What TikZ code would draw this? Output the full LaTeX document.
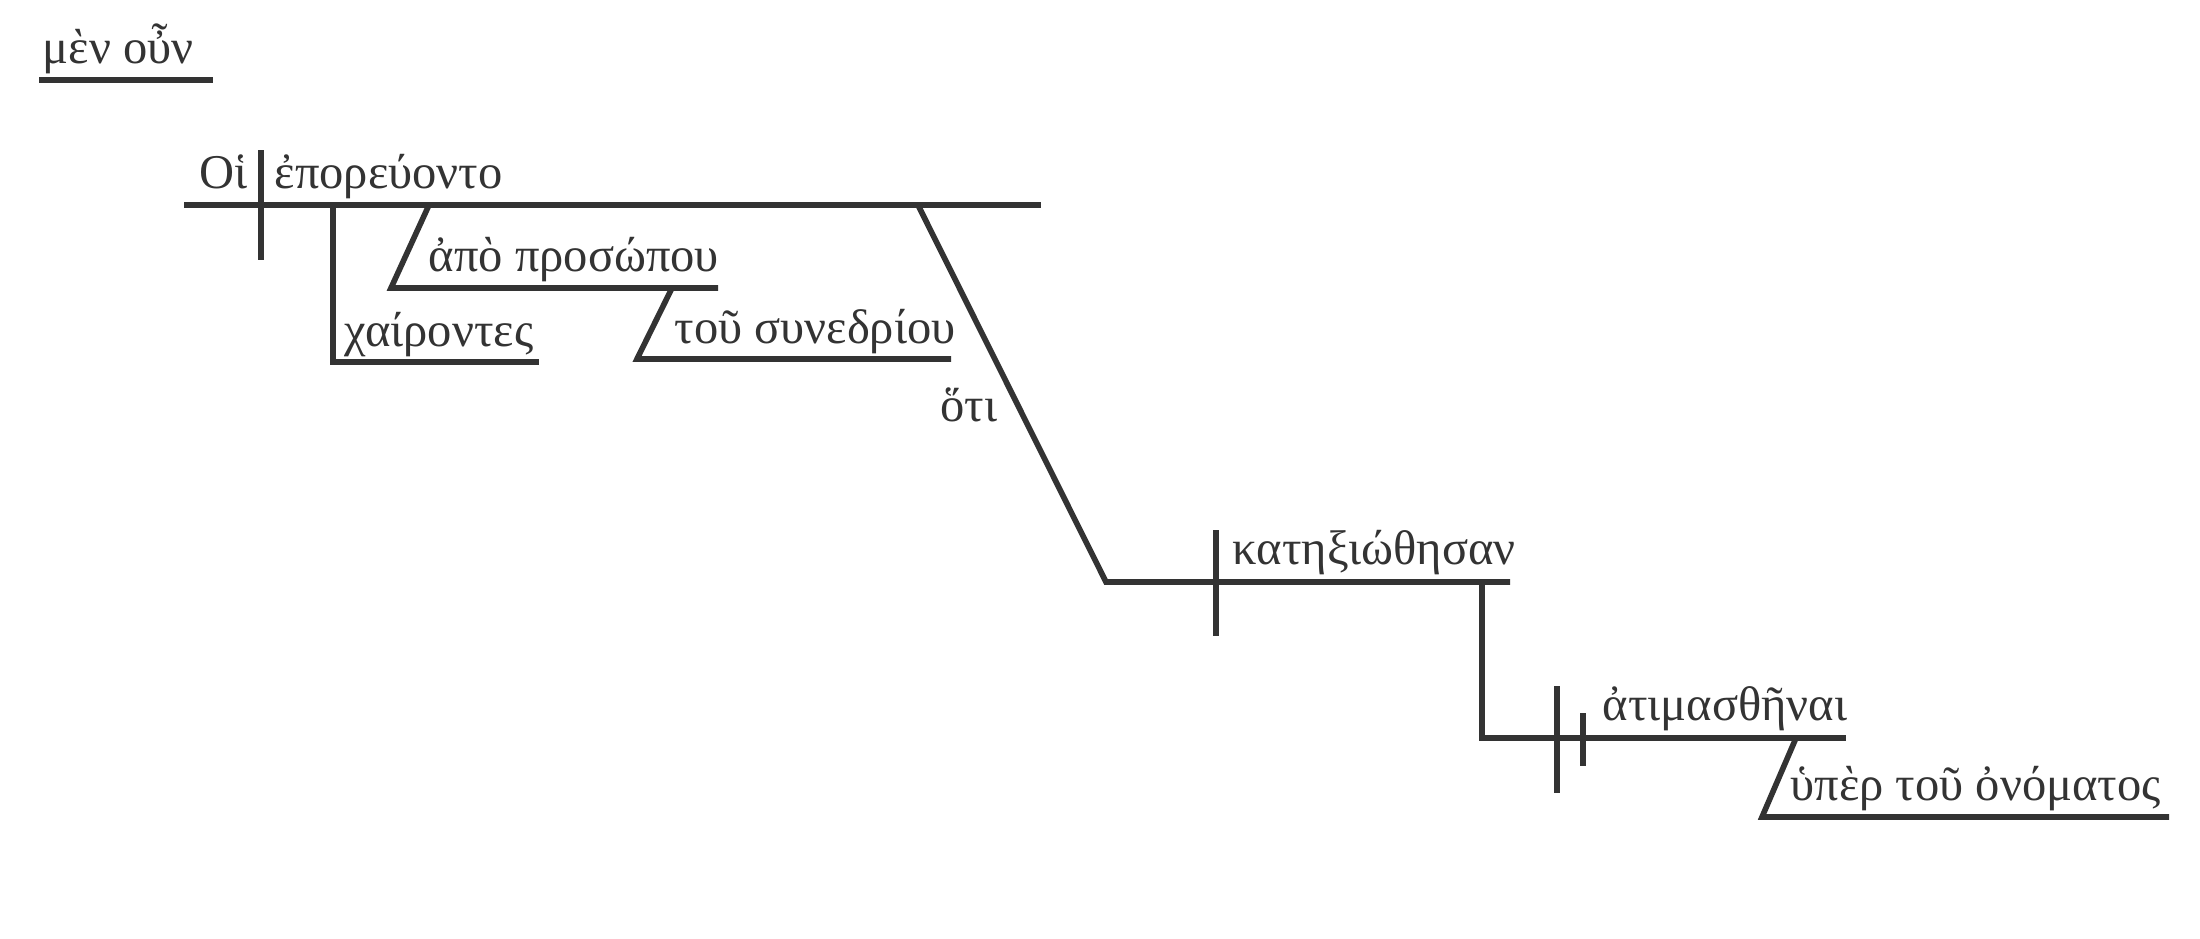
\documentclass[tikz,border=0pt]{standalone}
\usepackage{fontspec}
\setmainfont{Liberation Serif}
\definecolor{lc}{HTML}{333333}
\begin{document}
\begin{tikzpicture}[x=0.01cm,y=-0.01cm,
  ln/.style={line width=1.6pt, draw=lc},
  wd/.style={inner sep=0pt, anchor=base west, text=lc, font=\fontsize{13.8}{16}\selectfont}]
\useasboundingbox (0,0) rectangle (2200,938);
% conjunction
\node[wd] (menoun) at (42,63) {μὲν οὖν};
\coordinate (mu1) at (39,80); \coordinate (mu2) at (213,80);
\draw[ln] (mu1) -- (mu2);
% main clause
\coordinate (m1) at (184,205); \coordinate (m2) at (1041,205);
\draw[ln] (m1) -- (m2);
\coordinate (d1a) at (261,150); \coordinate (d1b) at (261,260);
\draw[ln] (d1a) -- (d1b);
\node[wd, anchor=base east] (oi) at (248,188) {Οἱ};
\node[wd] (verb) at (274,188) {ἐπορεύοντο};
% participle
\coordinate (c1) at (333,205); \coordinate (c2) at (333,362); \coordinate (c3) at (539,362);
\draw[ln] (c1) -- (c2) -- (c3);
\node[wd] (chair) at (344,346) {χαίροντες};
% apo prosopou
\coordinate (a1) at (429,205); \coordinate (a2) at (391,288); \coordinate (a3) at (718,288);
\draw[ln] (a1) -- (a2) -- (a3);
\node[wd] (apo) at (428,271) {ἀπὸ προσώπου};
% tou synedriou
\coordinate (t1) at (672,288); \coordinate (t2) at (637,359); \coordinate (t3) at (951,359);
\draw[ln] (t1) -- (t2) -- (t3);
\node[wd] (tou) at (674,343) {τοῦ συνεδρίου};
% hoti clause
\coordinate (h1) at (918,205); \coordinate (h2) at (1106,582); \coordinate (h3) at (1510,582);
\draw[ln] (h1) -- (h2) -- (h3);
\node[wd] (hoti) at (940,421) {ὅτι};
\coordinate (d2a) at (1216,530); \coordinate (d2b) at (1216,636);
\draw[ln] (d2a) -- (d2b);
\node[wd] (kat) at (1232,564) {κατηξιώθησαν};
% infinitive
\coordinate (i1) at (1482,582); \coordinate (i2) at (1482,738); \coordinate (i3) at (1846,738);
\draw[ln] (i1) -- (i2) -- (i3);
\coordinate (d3a) at (1557,686); \coordinate (d3b) at (1557,793);
\draw[ln] (d3a) -- (d3b);
\coordinate (d4a) at (1583,713); \coordinate (d4b) at (1583,766);
\draw[ln] (d4a) -- (d4b);
\node[wd] (atim) at (1602,720) {ἀτιμασθῆναι};
% hyper tou onomatos
\coordinate (u1) at (1796,738); \coordinate (u2) at (1762,817); \coordinate (u3) at (2169,817);
\draw[ln] (u1) -- (u2) -- (u3);
\node[wd] (hyper) at (1790,800) {ὑπὲρ τοῦ ὀνόματος};
\end{tikzpicture}
\end{document}
